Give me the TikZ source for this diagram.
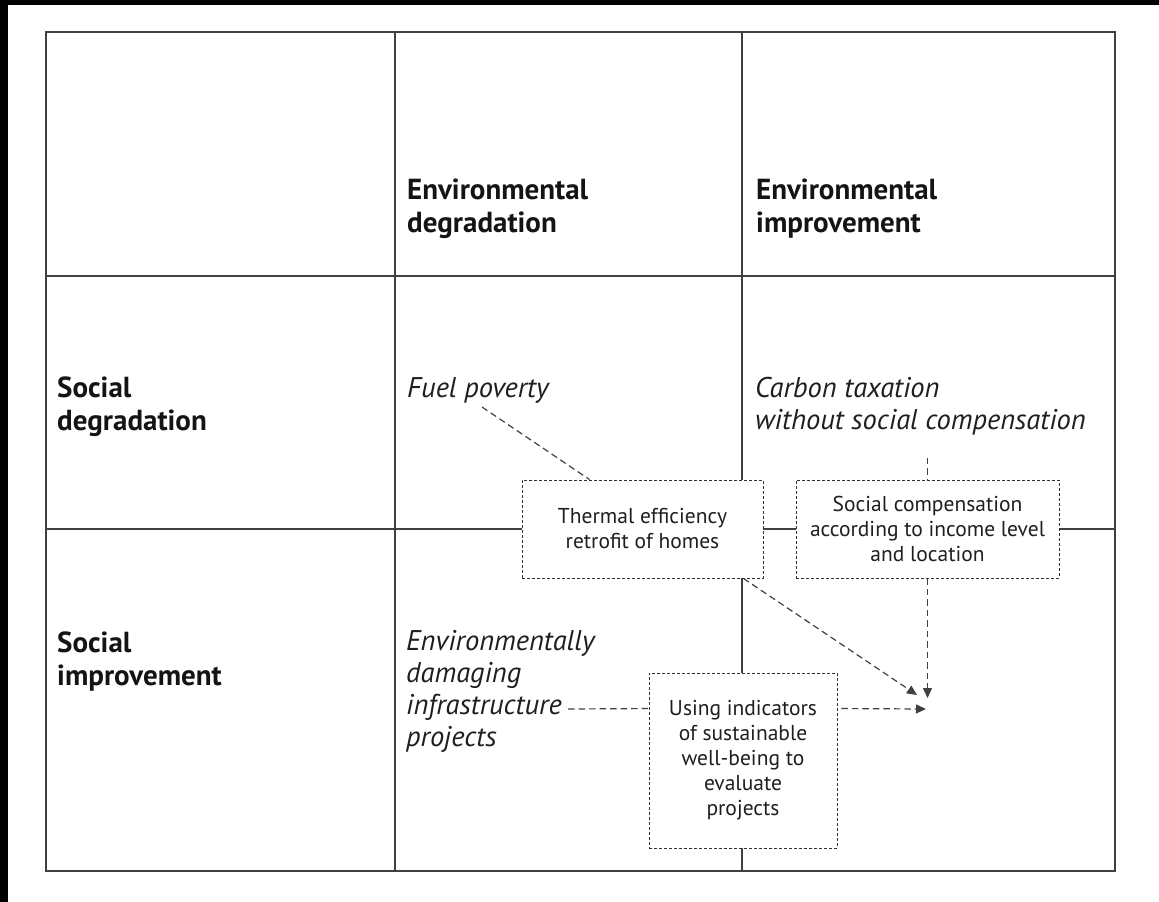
\documentclass[tikz,border=0pt]{standalone}
\usepackage{fontspec}
\setmainfont{PT Sans}
\usetikzlibrary{arrows.meta,calc}
\begin{document}
\begin{tikzpicture}[x=1pt,y=-1pt,
  gridline/.style={draw=black!75, line width=1.5pt},
  dbox/.style={draw=black!80, line width=0.9pt, dash pattern=on 3pt off 2pt, align=center,
    font=\fontsize{21.5}{25}\selectfont, text=black!88, inner sep=0pt, fill=white},
  conn/.style={draw=black!75, line width=1.2pt, dash pattern=on 6.5pt off 4pt},
  arr/.style={conn, -{Triangle[length=10pt,width=9pt]}},
  head/.style={font=\fontsize{29}{33}\selectfont\bfseries, anchor=base west, inner sep=0pt, text=black!92},
  ital/.style={font=\fontsize{28.5}{32}\selectfont\itshape, anchor=base west, inner sep=0pt, text=black!88},
]
\useasboundingbox (0,0) rectangle (1159,902);
\fill[white] (0,0) rectangle (1159,902);
\fill[black] (0,0) rectangle (1159,4.7);
\fill[black] (0,0) rectangle (8.3,902);

% grid
\draw[gridline] (46,32) rectangle (1115,871);
\draw[gridline] (395,32) -- (395,871);
\draw[gridline] (46,276) -- (1115,276);
\draw[gridline] (742,32) -- (742,480);
\draw[gridline] (742,578) -- (742,673);
\draw[gridline] (742,848) -- (742,871);
\draw[gridline] (46,529) -- (522,529);
\draw[gridline] (763,529) -- (796,529);
\draw[gridline] (1059,529) -- (1115,529);

% headings
\node[head] (envdeg) at (407,199) {\begin{tabular}[t]{@{}l@{}}Environmental\\degradation\end{tabular}};
\node[head] (envimp) at (756,199) {\begin{tabular}[t]{@{}l@{}}Environmental\\improvement\end{tabular}};
\node[head] (socdeg) at (57,397) {\begin{tabular}[t]{@{}l@{}}Social\\degradation\end{tabular}};
\node[head] (socimp) at (57,652) {\begin{tabular}[t]{@{}l@{}}Social\\improvement\end{tabular}};

% cell texts
\node[ital] (fuel) at (407,397) {Fuel poverty};
\coordinate (fuelend) at (482,407);
\node[ital] (carbon) at (755,397) {\begin{tabular}[t]{@{}l@{}}Carbon taxation\\without social compensation\end{tabular}};
\node[ital] (infra) at (406,650) {\begin{tabular}[t]{@{}l@{}}Environmentally\\damaging\\infrastructure\\projects\end{tabular}};
\coordinate (infraend) at (568,709);

% boxes
\node[dbox, minimum width=241pt, minimum height=98pt] (thermal) at (642.5,529)
  {Thermal efficiency\\retrofit of homes};
\node[dbox, minimum width=263pt, minimum height=98pt] (socialcomp) at (927.5,529)
  {Social compensation\\according to income level\\and location};
\node[dbox, minimum width=188pt, minimum height=175pt] (indicators) at (743,760.5)
  {Using indicators\\of sustainable\\well-being to\\evaluate\\projects};

% arrow tips
\coordinate (tipA) at (917,695);
\coordinate (tipB) at (927.5,698);
\coordinate (tipC) at (926,709);

% connectors
\draw[conn] (fuelend) -- ($(thermal.north west)+(68,0)$);
\draw[conn] ($(socialcomp.north)+(0,-22)$) -- (socialcomp.north);
\draw[arr] ($(thermal.south east)+(-20,0)$) -- (tipA);
\draw[arr] (socialcomp.south) -- (tipB);
\draw[conn] (infraend) -- ($(indicators.north west)+(0,36)$);
\draw[arr] ($(indicators.north east)+(4,36)$) -- (tipC);
\end{tikzpicture}
\end{document}
